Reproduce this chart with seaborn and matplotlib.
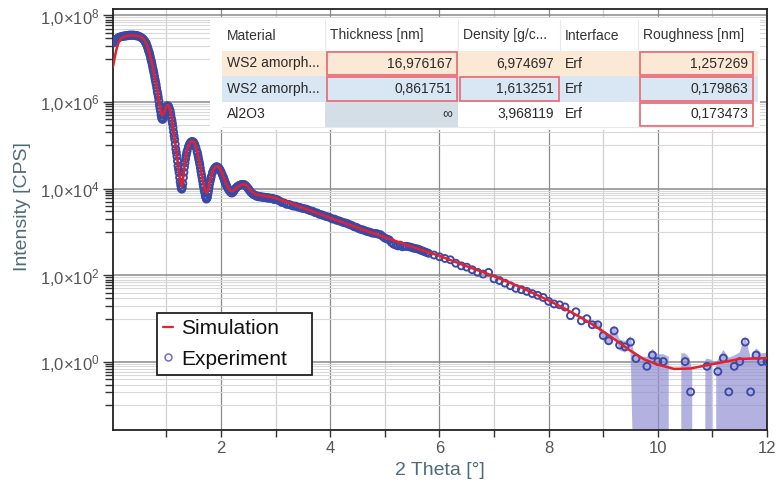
import numpy as np
import pandas as pd
import matplotlib
matplotlib.use("Agg")
import matplotlib.pyplot as plt
import seaborn as sns
from matplotlib.ticker import FixedLocator, FuncFormatter, NullFormatter
from matplotlib.lines import Line2D
from matplotlib.patches import Rectangle

# ---------------- data (intensities stored as log10 of CPS) ----------------
sim_two_theta = [0.02, 0.05, 0.08, 0.11, 0.14, 0.18, 0.22, 0.28, 0.34, 0.40, 0.46, 0.52,
                 0.56, 0.60, 0.64, 0.68, 0.72, 0.76, 0.80, 0.84, 0.87, 0.90, 0.92, 0.94,
                 0.97, 1.00, 1.03, 1.06, 1.09, 1.12, 1.15, 1.18, 1.21, 1.24, 1.26, 1.28,
                 1.30, 1.32, 1.35, 1.38, 1.42, 1.46, 1.50, 1.54, 1.58, 1.62, 1.66, 1.70,
                 1.73, 1.75, 1.78, 1.82, 1.86, 1.90, 1.94, 1.98, 2.02, 2.06, 2.10, 2.14,
                 2.18, 2.21, 2.25, 2.30, 2.35, 2.40, 2.44, 2.48, 2.53, 2.58, 2.64, 2.70,
                 2.80, 2.92, 3.05, 3.20, 3.35, 3.50, 3.75, 4.00, 4.50, 5.00, 5.50, 6.00,
                 6.50, 7.00, 7.50, 8.00, 8.30, 8.60, 8.90, 9.20, 9.50, 9.75, 10.00, 10.30,
                 10.60, 11.00, 11.50, 12.00]
sim_log10 = [6.82, 7.02, 7.20, 7.33, 7.42, 7.48, 7.51, 7.53, 7.54, 7.54, 7.53, 7.51,
             7.48, 7.42, 7.32, 7.17, 6.97, 6.74, 6.48, 6.20, 5.96, 5.76, 5.70, 5.72,
             5.82, 5.91, 5.93, 5.85, 5.66, 5.43, 5.15, 4.86, 4.57, 4.29, 4.13, 4.05,
             4.18, 4.42, 4.70, 4.90, 5.04, 5.10, 5.09, 4.97, 4.77, 4.50, 4.22, 3.99,
             3.91, 3.92, 4.08, 4.30, 4.44, 4.51, 4.52, 4.46, 4.35, 4.22, 4.10, 4.00,
             3.95, 3.94, 3.98, 4.04, 4.08, 4.10, 4.10, 4.06, 3.98, 3.91, 3.87, 3.85,
             3.83, 3.81, 3.76, 3.70, 3.63, 3.56, 3.44, 3.33, 3.10, 2.88, 2.66, 2.45,
             2.21, 1.98, 1.72, 1.42, 1.23, 1.02, 0.79, 0.53, 0.26, 0.06, -0.06, -0.16,
             -0.15, -0.05, 0.07, 0.09]

exp_two_theta = [
    0.02, 0.04, 0.06, 0.08, 0.10, 0.12, 0.14, 0.16, 0.18, 0.20,
    0.22, 0.24, 0.26, 0.28, 0.30, 0.32, 0.34, 0.36, 0.38, 0.40,
    0.42, 0.44, 0.46, 0.48, 0.50, 0.52, 0.54, 0.56, 0.58, 0.60,
    0.62, 0.64, 0.66, 0.68, 0.70, 0.72, 0.74, 0.76, 0.78, 0.80,
    0.82, 0.84, 0.86, 0.88, 0.90, 0.92, 0.94, 0.96, 0.98, 1.00,
    1.02, 1.04, 1.06, 1.08, 1.10, 1.12, 1.14, 1.16, 1.18, 1.20,
    1.22, 1.24, 1.26, 1.28, 1.30, 1.32, 1.34, 1.36, 1.38, 1.40,
    1.42, 1.44, 1.46, 1.48, 1.50, 1.52, 1.54, 1.56, 1.58, 1.60,
    1.62, 1.64, 1.66, 1.68, 1.70, 1.72, 1.74, 1.76, 1.78, 1.80,
    1.82, 1.84, 1.86, 1.88, 1.90, 1.92, 1.94, 1.96, 1.98, 2.00,
    2.02, 2.04, 2.06, 2.08, 2.10, 2.12, 2.14, 2.16, 2.18, 2.20,
    2.22, 2.24, 2.26, 2.28, 2.30, 2.32, 2.34, 2.36, 2.38, 2.40,
    2.42, 2.44, 2.46, 2.48, 2.50, 2.52, 2.54, 2.56, 2.58, 2.60,
    2.62, 2.64, 2.66, 2.68, 2.70, 2.72, 2.74, 2.76, 2.78, 2.80,
    2.82, 2.84, 2.86, 2.88, 2.90, 2.92, 2.94, 2.96, 2.98, 3.00,
    3.04, 3.08, 3.12, 3.16, 3.20, 3.24, 3.28, 3.32, 3.36, 3.40,
    3.44, 3.48, 3.52, 3.56, 3.60, 3.64, 3.68, 3.72, 3.76, 3.80,
    3.84, 3.88, 3.92, 3.96, 4.00, 4.04, 4.08, 4.12, 4.16, 4.20,
    4.24, 4.28, 4.32, 4.36, 4.40, 4.44, 4.48, 4.52, 4.56, 4.60,
    4.64, 4.68, 4.72, 4.76, 4.80, 4.84, 4.88, 4.92, 4.96, 5.00,
    5.04, 5.08, 5.12, 5.16, 5.20, 5.24, 5.28, 5.32, 5.36, 5.40,
    5.44, 5.48, 5.52, 5.56, 5.60, 5.64, 5.68, 5.72, 5.76, 5.80,
    5.9, 6.0, 6.1, 6.2, 6.3, 6.4, 6.5, 6.6, 6.7, 6.8,
    6.9, 7.0, 7.1, 7.2, 7.3, 7.4, 7.5, 7.6, 7.7, 7.8,
    7.9, 8.0, 8.1, 8.2, 8.3, 8.4, 8.5, 8.6, 8.7, 8.8,
    8.9, 9.0, 9.1, 9.2, 9.3, 9.4, 9.5, 9.6, 9.7, 9.8,
    9.9, 10.0, 10.1, 10.2, 10.3, 10.4, 10.5, 10.6, 10.7, 10.8,
    10.9, 11.0, 11.1, 11.2, 11.3, 11.4, 11.5, 11.6, 11.7, 11.8,
    11.9, 12.0]
nan = float("nan")
exp_log10 = [
    7.36, 7.40, 7.43, 7.45, 7.47, 7.49, 7.50, 7.51, 7.51, 7.52,
    7.53, 7.52, 7.54, 7.53, 7.54, 7.55, 7.54, 7.55, 7.54, 7.55,
    7.54, 7.53, 7.54, 7.52, 7.52, 7.50, 7.49, 7.47, 7.45, 7.41,
    7.37, 7.31, 7.24, 7.16, 7.07, 6.96, 6.85, 6.73, 6.60, 6.47,
    6.33, 6.19, 6.03, 5.86, 5.70, 5.61, 5.63, 5.74, 5.84, 5.90,
    5.92, 5.90, 5.83, 5.71, 5.57, 5.41, 5.22, 5.03, 4.84, 4.64,
    4.45, 4.26, 4.08, 3.99, 4.12, 4.38, 4.60, 4.77, 4.88, 4.97,
    5.03, 5.07, 5.09, 5.09, 5.07, 5.02, 4.95, 4.86, 4.75, 4.62,
    4.48, 4.33, 4.18, 4.03, 3.91, 3.80, 3.78, 3.88, 4.03, 4.17,
    4.28, 4.37, 4.43, 4.47, 4.50, 4.51, 4.50, 4.48, 4.44, 4.39,
    4.33, 4.27, 4.20, 4.13, 4.07, 4.02, 3.97, 3.94, 3.91, 3.90,
    3.92, 3.96, 4.00, 4.03, 4.05, 4.07, 4.08, 4.09, 4.10, 4.09,
    4.10, 4.08, 4.06, 4.03, 4.00, 3.96, 3.93, 3.90, 3.88, 3.86,
    3.85, 3.84, 3.82, 3.83, 3.81, 3.82, 3.81, 3.80, 3.81, 3.80,
    3.79, 3.80, 3.78, 3.79, 3.78, 3.77, 3.78, 3.76, 3.75, 3.76,
    3.74, 3.71, 3.68, 3.67, 3.64, 3.64, 3.62, 3.60, 3.60, 3.58,
    3.57, 3.55, 3.54, 3.53, 3.51, 3.49, 3.48, 3.45, 3.44, 3.41,
    3.40, 3.38, 3.36, 3.35, 3.33, 3.30, 3.30, 3.27, 3.26, 3.24,
    3.22, 3.21, 3.19, 3.17, 3.15, 3.12, 3.11, 3.08, 3.06, 3.05,
    3.03, 3.01, 3.00, 2.98, 2.97, 2.97, 2.95, 2.94, 2.90, 2.86,
    2.84, 2.82, 2.76, 2.72, 2.70, 2.68, 2.70, 2.66, 2.67, 2.67,
    2.66, 2.65, 2.63, 2.62, 2.61, 2.59, 2.57, 2.55, 2.53, 2.51,
    2.47, 2.43, 2.39, 2.36, 2.28, 2.22, 2.19, 2.13, 2.07, 2.03,
    2.07, 1.92, 1.88, 1.82, 1.76, 1.70, 1.67, 1.63, 1.58, 1.54,
    1.49, 1.40, 1.34, 1.32, 1.27, 1.07, 1.16, 0.95, 1.00, 0.86,
    0.86, 0.61, 0.49, 0.72, 0.39, 0.35, 0.46, 0.08, nan, -0.10,
    0.16, 0.01, 0.01, nan, nan, nan, 0.01, -0.69, nan, nan,
    -0.10, nan, -0.22, 0.09, -0.69, -0.10, 0.01, 0.46, -0.69, 0.16,
    0.01, 0.01]

# extra experimental points on the steep flanks of the fringes (dense scan there)
exp_fine_two_theta = [0.61, 0.63, 0.65, 0.67, 0.69, 0.71, 0.73, 0.75, 0.77, 0.79,
                      0.81, 0.83, 0.85, 0.87, 0.89, 0.91, 0.93, 0.95, 0.97,
                      1.07, 1.09, 1.11, 1.13, 1.15, 1.17, 1.19, 1.21, 1.23, 1.25,
                      1.27, 1.29, 1.31, 1.33, 1.35, 1.37,
                      1.57, 1.59, 1.61, 1.63, 1.65, 1.67, 1.69, 1.71, 1.73, 1.75,
                      1.77, 1.79, 1.81, 2.05, 2.07, 2.09]
exp_fine_log10 = [7.39, 7.35, 7.28, 7.19, 7.12, 7.01, 6.91, 6.78, 6.67, 6.53,
                  6.41, 6.25, 6.12, 5.93, 5.79, 5.64, 5.60, 5.69, 5.80,
                  5.78, 5.63, 5.50, 5.31, 5.14, 4.92, 4.75, 4.53, 4.37, 4.16,
                  4.01, 4.03, 4.26, 4.50, 4.69, 4.83,
                  4.81, 4.68, 4.56, 4.40, 4.26, 4.10, 3.96, 3.84, 3.76, 3.81,
                  3.95, 4.11, 4.23, 4.24, 4.16, 4.10]

band_two_theta = [8.8, 8.9, 9.0, 9.1, 9.2, 9.3, 9.4, 9.5, 9.56, 9.7, 9.8, 9.9, 10.0,
                  10.1, 10.2, 10.32, 10.43, 10.5, 10.58, 10.63, 10.75, 10.87, 10.9,
                  10.99, 11.03, 11.07, 11.1, 11.2, 11.3, 11.4, 11.5, 11.6, 11.7, 11.8,
                  11.9, 12.0]
band_lo_log10 = [0.80, 0.78, 0.50, 0.38, 0.60, 0.27, 0.22, 0.33, -3, -3, -3, -3, -3,
                 -3, -3, nan, -3, -3, -3, -3, nan, -3, -3,
                 -3, nan, -3, -3, -3, -3, -3, -3, -3, -3, -3,
                 -3, -3]
band_hi_log10 = [0.92, 0.94, 0.72, 0.62, 0.84, 0.52, 0.48, 0.60, 0.25, 0.12, 0.12, 0.30, 0.18,
                 0.18, 0.12, nan, 0.20, 0.20, 0.10, -0.20, nan, 0.05, 0.08,
                 0.05, nan, 0.00, 0.05, 0.28, 0.10, 0.15, 0.22, 0.60, 0.10, 0.32,
                 0.20, 0.22]

x_major_ticks = [2, 4, 6, 8, 10, 12]
x_minor_ticks = [1, 3, 5, 7, 9, 11]
y_major_exponents = [0, 2, 4, 6, 8]
y_minor_decades = [-1, 1, 3, 5, 7]

table_columns = ["Material", "Thickness [nm]", "Density [g/c...", "Interface", "Roughness [nm]"]
table_rows = [
    ["WS2 amorph...", "16,976167", "6,974697", "Erf", "1,257269"],
    ["WS2 amorph...", "0,861751", "1,613251", "Erf", "0,179863"],
    ["Al2O3", "\u221e", "3,968119", "Erf", "0,173473"],
]
fitted_cells = [(0, 1), (0, 4), (1, 1), (1, 2), (1, 4), (2, 4)]

# ---------------- style ----------------
sns.set_theme(style="white")
plt.rcParams["font.family"] = ["Liberation Sans", "DejaVu Sans"]
plt.rcParams["mathtext.fontset"] = "custom"
plt.rcParams["mathtext.rm"] = "Liberation Sans"
plt.rcParams["mathtext.it"] = "Liberation Sans:italic"
plt.rcParams["mathtext.bf"] = "Liberation Sans:bold"
plt.rcParams["mathtext.sf"] = "Liberation Sans"

fig = plt.figure(figsize=(7.81, 4.88), dpi=100)
ax = fig.add_axes([113 / 781, 58 / 488, 654 / 781, 421 / 488])
ax.set_yscale("log")

sim_df = pd.DataFrame({"two_theta": sim_two_theta, "intensity": 10.0 ** np.array(sim_log10)})
exp_df = pd.DataFrame({"two_theta": exp_two_theta + exp_fine_two_theta,
                       "intensity": 10.0 ** np.array(exp_log10 + exp_fine_log10)})

ax.fill_between(band_two_theta, 10.0 ** np.array(band_lo_log10), 10.0 ** np.array(band_hi_log10),
                color="#8f8cd0", alpha=0.68, lw=0, zorder=2)
sns.scatterplot(data=exp_df, x="two_theta", y="intensity", ax=ax, marker="o", s=25,
                facecolors="none", edgecolor="#3a49a6", linewidth=1.35, zorder=3, legend=False)
sns.lineplot(data=sim_df, x="two_theta", y="intensity", ax=ax, color="#e5222c", lw=1.8,
             sort=False, estimator=None, zorder=4, legend=False)

ax.set_xlim(0.02, 12.0)
ax.set_ylim(10 ** -1.57, 10 ** 8.15)

ax.xaxis.set_major_locator(FixedLocator(x_major_ticks))
ax.xaxis.set_minor_locator(FixedLocator(x_minor_ticks))
ax.xaxis.set_major_formatter(FuncFormatter(lambda v, p: f"{v:g}"))
ax.yaxis.set_major_locator(FixedLocator([10.0 ** e for e in y_major_exponents]))
ax.yaxis.set_minor_locator(FixedLocator([k * 10.0 ** d for d in y_minor_decades for k in range(1, 10)]))
ax.yaxis.set_major_formatter(FuncFormatter(lambda v, p: "1,0\u00d710$^{%d}$" % round(np.log10(v))))
ax.yaxis.set_minor_formatter(NullFormatter())

ax.tick_params(axis="both", which="both", bottom=True, left=True, top=False, right=False,
               direction="out", color="#333333", labelcolor="#555555", labelsize=12, width=1.0)
ax.tick_params(axis="y", which="major", length=7, pad=3)
ax.tick_params(axis="y", which="minor", length=6)
ax.tick_params(axis="x", which="both", length=5, pad=3)

ax.grid(True, which="major", axis="x", color="#8a8a8a", lw=0.9)
ax.grid(True, which="minor", axis="x", color="#d0d0d0", lw=0.9)
ax.grid(True, which="major", axis="y", color="#8a8a8a", lw=1.1)
ax.grid(True, which="minor", axis="y", color="#d9d9d9", lw=0.8)
ax.set_axisbelow(True)
for s in ax.spines.values():
    s.set_visible(True)
    s.set_color("#222222")
    s.set_linewidth(1.3)

label_color = "#4e6b7c"
ax.set_xlabel("2 Theta [\u00b0]", fontsize=14, color=label_color)
ax.set_ylabel("Intensity [CPS]", fontsize=14, color=label_color)
ax.xaxis.set_label_coords(0.5, -0.075)
ax.yaxis.set_label_coords(-0.125, 0.53)

handles = [Line2D([0], [0], color="#e5222c", lw=1.6),
           Line2D([0], [0], marker="o", ls="none", mfc="none", mec="#6f6fc4", ms=5, mew=1.1)]
leg = ax.legend(handles, ["Simulation", "Experiment"], loc="upper left", mode="expand",
                bbox_to_anchor=(157 / 781, 1 - 374 / 488, 155 / 781, 61 / 488),
                bbox_transform=fig.transFigure,
                borderaxespad=0, fontsize=15, handlelength=0.45, handletextpad=0.4,
                borderpad=0.3, labelspacing=0.55, fancybox=False, framealpha=1,
                edgecolor="#222222")
leg.get_frame().set_linewidth(1.3)
for t in leg.get_texts():
    t.set_color("#111111")

# ---------------- parameter table (pixel coordinates) ----------------
tax = fig.add_axes([0, 0, 1, 1], zorder=5)
tax.set_xlim(0, 781)
tax.set_ylim(488, 0)
tax.axis("off")
col_edges = [222, 325, 458, 560, 638, 754]
row_edges = [18, 51, 76, 102, 127]
row_colors = ["#fbe8d5", "#d9e7f5", "#ffffff"]
aligns = ["left", "right", "right", "left", "right"]
tax.add_patch(Rectangle((210, 18), 550, 112, fc="white", ec="none"))
for r in range(3):
    y0, y1 = row_edges[r + 1], row_edges[r + 2]
    tax.add_patch(Rectangle((222, y0), 536, y1 - y0, fc=row_colors[r], ec="none"))
tax.add_patch(Rectangle((col_edges[1], row_edges[3]), col_edges[2] - col_edges[1],
                        row_edges[4] - row_edges[3], fc="#d4dee6", ec="none"))
for xe in col_edges[1:-1]:
    tax.plot([xe, xe], [row_edges[0] + 2, row_edges[1]], color="#e6eaef", lw=0.8)
tax.plot([222, 758], [row_edges[4], row_edges[4]], color="#e6eaef", lw=0.8)
for (r, c) in fitted_cells:
    x0, x1 = col_edges[c], col_edges[c + 1]
    y0, y1 = row_edges[r + 1], row_edges[r + 2]
    tax.add_patch(Rectangle((x0 + 1.5, y0 + 1.2), x1 - x0 - 3, y1 - y0 - 2.4,
                            fill=False, ec="#ea6f7b", lw=1.3))
for c, name in enumerate(table_columns):
    tax.text(col_edges[c] + 5, (row_edges[0] + row_edges[1]) / 2 + 1, name,
             ha="left", va="center", fontsize=10, color="#333333")
for r, row in enumerate(table_rows):
    yc = (row_edges[r + 1] + row_edges[r + 2]) / 2
    for c, val in enumerate(row):
        if aligns[c] == "left":
            tax.text(col_edges[c] + 5, yc, val, ha="left", va="center", fontsize=10, color="#2a2a2a")
        else:
            tax.text(col_edges[c + 1] - 6, yc, val, ha="right", va="center", fontsize=10, color="#2a2a2a")

fig.savefig("out.png", dpi=100)
